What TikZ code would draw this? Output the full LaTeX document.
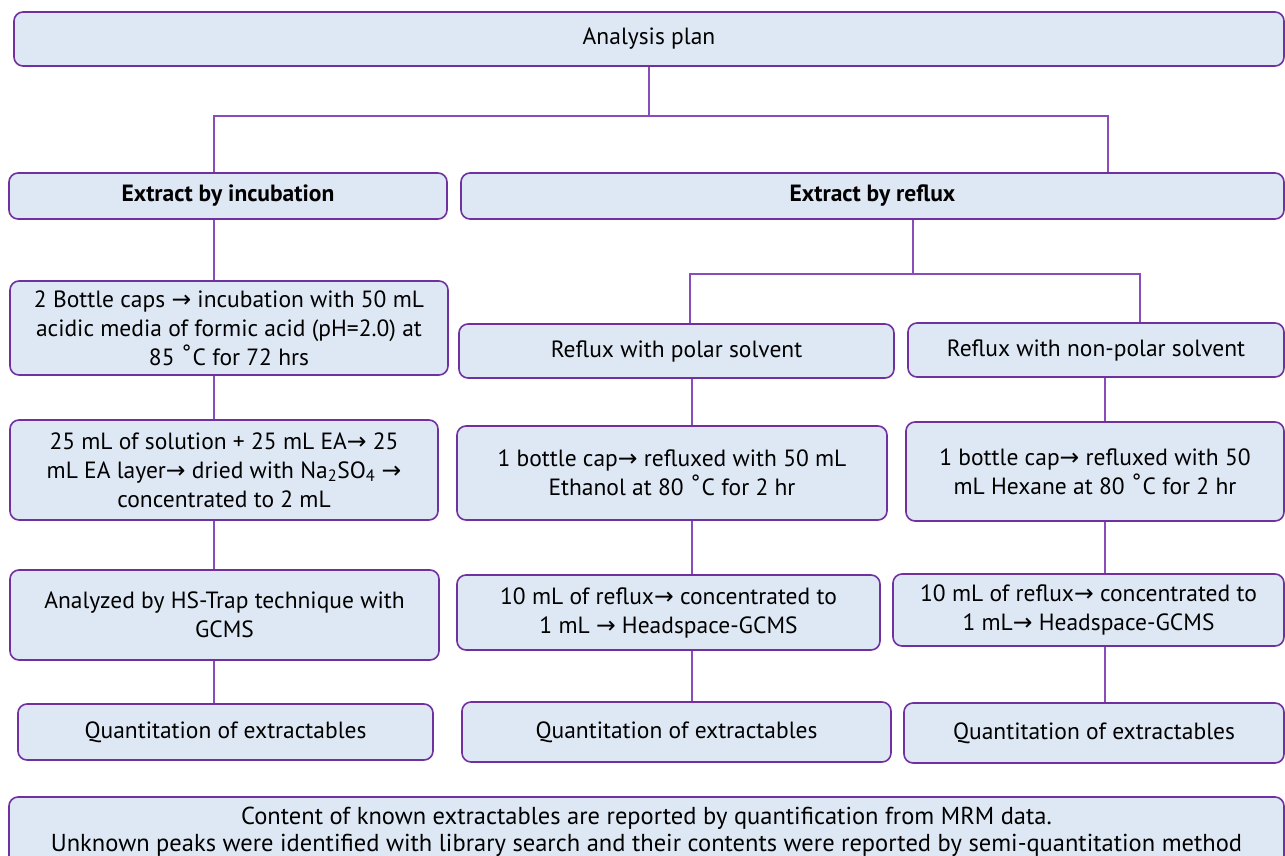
\documentclass[tikz,border=0pt]{standalone}
\usepackage{fontspec}
\setmainfont{PT Sans}
\newfontfamily\symfont{DejaVu Sans}
\usepackage{xcolor}
\usetikzlibrary{calc}

\definecolor{boxline}{HTML}{7030A0}
\definecolor{boxfill}{HTML}{DEE8F4}
\definecolor{linkline}{HTML}{8A4CBA}

\newcommand{\ra}{{\symfont →}}
\newcommand{\dg}{{\symfont ˚}}

\begin{document}
\begin{tikzpicture}[x=1pt,y=-1pt,
    box/.style={draw=boxline, fill=boxfill, rounded corners=9pt, line width=1.6pt,
      align=center, inner sep=0pt, font=\fontsize{23.5}{29}\selectfont},
    link/.style={draw=linkline, line width=1.3pt}]

  \useasboundingbox (0,0) rectangle (1285,856);

  % top levels
  \node[box, minimum width=1270pt, minimum height=54pt] (plan) at (649,39) {Analysis plan};
  \node[box, minimum width=438pt, minimum height=46pt] (incub) at (228,196) {\textbf{Extract by incubation}};
  \node[box, minimum width=823pt, minimum height=46pt] (reflux) at (872.5,196) {\textbf{Extract by reflux}};

  % incubation column
  \node[box, minimum width=438pt, minimum height=94pt] (caps) at (229,328)
    {2 Bottle caps \ra{} incubation with 50 mL\\acidic media of formic acid (pH=2.0) at\\85 \dg C for 72 hrs};
  \node[box, minimum width=428pt, minimum height=100pt] (soln) at (224,470)
    {25 mL of solution + 25 mL EA\ra{} 25\\mL EA layer\ra{} dried with Na\textsubscript{2}SO\textsubscript{4} \ra\\concentrated to 2 mL};
  \node[box, minimum width=429pt, minimum height=90pt] (hstrap) at (224.5,615)
    {Analyzed by HS-Trap technique with\\GCMS};
  \node[box, minimum width=415pt, minimum height=56pt] (quantL) at (225.5,732) {Quantitation of extractables};

  % reflux columns
  \node[box, minimum width=435pt, minimum height=54pt] (polar) at (676.5,351) {Reflux with polar solvent};
  \node[box, minimum width=376pt, minimum height=54pt] (nonpolar) at (1096,350) {Reflux with non-polar solvent};
  \node[box, minimum width=430pt, minimum height=94pt] (ethanol) at (672,473)
    {1 bottle cap\ra{} refluxed with 50 mL\\Ethanol at 80 \dg C for 2 hr};
  \node[box, minimum width=378pt, minimum height=99pt] (hexane) at (1095,471.5)
    {1 bottle cap\ra{} refluxed with 50\\mL Hexane at 80 \dg C for 2 hr};
  \node[box, minimum width=423pt, minimum height=75pt] (headM) at (668.5,612.5)
    {10 mL of reflux\ra{} concentrated to\\1 mL \ra{} Headspace-GCMS};
  \node[box, minimum width=391pt, minimum height=72pt] (headR) at (1088.5,610)
    {10 mL of reflux\ra{} concentrated to\\1 mL\ra{} Headspace-GCMS};
  \node[box, minimum width=429pt, minimum height=60pt] (quantM) at (676.5,732) {Quantitation of extractables};
  \node[box, minimum width=380pt, minimum height=60pt] (quantR) at (1094,733) {Quantitation of extractables};

  % note at the bottom
  \node[box, minimum width=1275pt, minimum height=69pt, font=\fontsize{24.5}{27}\selectfont] (note) at (646.5,831.5)
    {Content of known extractables are reported by quantification from MRM data.\\
     Unknown peaks were identified with library search and their contents were reported by semi-quantitation method};

  % branch points
  \coordinate (topR) at (1108,116);
  \coordinate (colL) at (214,0);
  \coordinate (midL) at (690,274);
  \coordinate (midR) at (1140,274);
  \coordinate (midC) at (913,0);
  \coordinate (colM) at (692,0);
  \coordinate (colR) at (1105,0);

  \draw[link] (plan.south) -- (plan.south |- topR);
  \draw[link] (incub.north -| colL) |- (topR) -- (topR |- reflux.north);
  \draw[link] (reflux.south -| midC) -- (midC |- midL);
  \draw[link] (polar.north -| midL) -- (midL) -- (midR) -- (midR |- nonpolar.north);

  \draw[link] (incub.south -| colL) -- (caps.north -| colL);
  \draw[link] (caps.south -| colL) -- (soln.north -| colL);
  \draw[link] (soln.south -| colL) -- (hstrap.north -| colL);
  \draw[link] (hstrap.south -| colL) -- (quantL.north -| colL);

  \draw[link] (polar.south -| colM) -- (ethanol.north -| colM);
  \draw[link] (ethanol.south -| colM) -- (headM.north -| colM);
  \draw[link] (headM.south -| colM) -- (quantM.north -| colM);

  \draw[link] (nonpolar.south -| colR) -- (hexane.north -| colR);
  \draw[link] (hexane.south -| colR) -- (headR.north -| colR);
  \draw[link] (headR.south -| colR) -- (quantR.north -| colR);

\end{tikzpicture}
\end{document}
